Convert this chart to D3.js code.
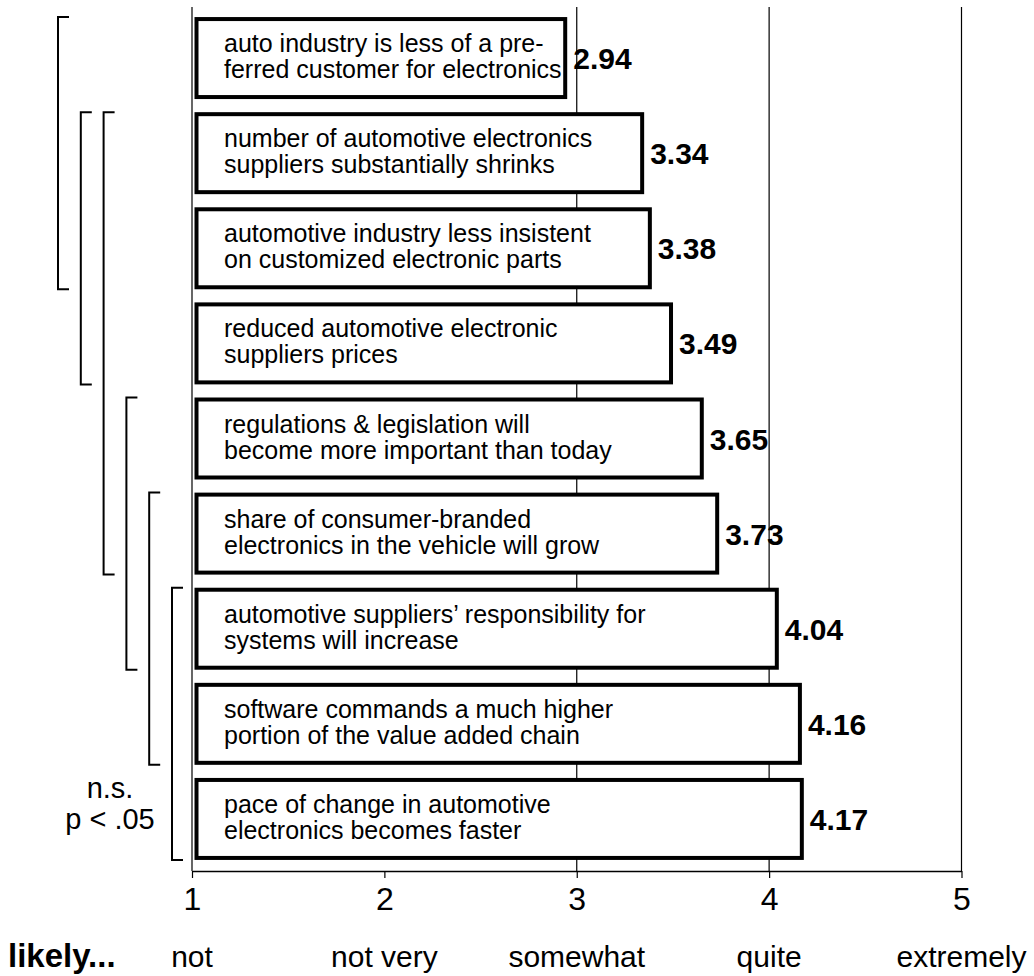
<!DOCTYPE html>
<html>
<head>
<meta charset="utf-8">
<script src="https://cdn.jsdelivr.net/npm/d3@7"></script>
<style>
  html, body { margin: 0; padding: 0; background: #fff; }
  svg { display: block; }
  text { font-family: "Liberation Sans", Arial, Helvetica, sans-serif; fill: #000; }
</style>
</head>
<body>
<svg id="chart" width="1034" height="976"></svg>
<script>
// ---- data ----
const labelLine1 = [
  "auto industry is less of a pre-",
  "number of automotive electronics",
  "automotive industry less insistent",
  "reduced automotive electronic",
  "regulations & legislation will",
  "share of consumer-branded",
  "automotive suppliers\u2019 responsibility for",
  "software commands a much higher",
  "pace of change in automotive"
];
const labelLine2 = [
  "ferred customer for electronics",
  "suppliers substantially shrinks",
  "on customized electronic parts",
  "suppliers prices",
  "become more important than today",
  "electronics in the vehicle will grow",
  "systems will increase",
  "portion of the value added chain",
  "electronics becomes faster"
];
const values = [2.94, 3.34, 3.38, 3.49, 3.65, 3.73, 4.04, 4.16, 4.17];
const tickValues = [1, 2, 3, 4, 5];
const scaleWords = ["not", "not very", "somewhat", "quite", "extremely"];
const gridValues = [1, 3, 4, 5];
// significance brackets: [first bar index, last bar index]
const bracketStart = [0, 1, 1, 4, 5, 6];
const bracketEnd   = [2, 3, 5, 6, 7, 8];
const legendLines = ["n.s.", "p < .05"];
const scaleTitle = "likely...";

// ---- layout ----
const svg = d3.select("#chart");
const axisY = 871;
const gridTop = 7;
const x = d3.scaleLinear().domain([1, 5]).range([192, 961.5]);
const idx = values.map((d, i) => i);
const y = d3.scaleBand().domain(idx).range([10.5, 866.5]).paddingInner(0.18).paddingOuter(0.09);
const bw = y.bandwidth();

// gridlines (behind bars)
svg.append("g").selectAll("line").data(gridValues).join("line")
  .attr("x1", d => x(d)).attr("x2", d => x(d))
  .attr("y1", gridTop).attr("y2", axisY)
  .attr("stroke", "#000").attr("stroke-width", 1.2);

// x axis
const axis = d3.axisBottom(x).tickValues(tickValues).tickSize(7).tickSizeOuter(0)
  .tickFormat(d3.format("d"));
const gAxis = svg.append("g").attr("transform", `translate(0,${axisY})`).call(axis);
gAxis.select(".domain").attr("stroke", "#000").attr("stroke-width", 1.3);
gAxis.selectAll(".tick line").attr("stroke", "#000").attr("stroke-width", 1.2);
gAxis.selectAll(".tick text")
  .attr("y", 39).attr("dy", 0)
  .style("font-size", "32px")
  .style("font-family", "'Liberation Sans', Arial, Helvetica, sans-serif")
  .attr("fill", "#000");

// bars
const barLeft = x(1) + 4.5;
const gBars = svg.append("g");
gBars.selectAll("rect").data(values).join("rect")
  .attr("x", barLeft)
  .attr("y", (d, i) => y(i))
  .attr("width", d => x(d) - barLeft)
  .attr("height", bw)
  .attr("fill", "#fff")
  .attr("stroke", "#000")
  .attr("stroke-width", 4);

// bar texts
const gTxt = svg.append("g").style("font-size", "25px");
gTxt.selectAll("text.l1").data(labelLine1).join("text").attr("class", "l1")
  .attr("x", x(1) + 32)
  .attr("y", (d, i) => y(i) + bw / 2 - 6)
  .text(d => d);
gTxt.selectAll("text.l2").data(labelLine2).join("text").attr("class", "l2")
  .attr("x", x(1) + 32)
  .attr("y", (d, i) => y(i) + bw / 2 + 20)
  .text(d => d);

// value labels
svg.append("g").selectAll("text").data(values).join("text")
  .attr("x", d => x(d) + 8)
  .attr("y", (d, i) => y(i) + bw / 2 + 11)
  .style("font-size", "30px").style("font-weight", "bold")
  .text(d => d.toFixed(2));

// brackets
const bracketX = bracketStart.map((d, k) => 58 + k * 22.8);
const arm = 11;
svg.append("g").selectAll("path").data(bracketStart).join("path")
  .attr("d", (s, k) => {
    const bx = bracketX[k];
    const t = y(s) - 2;
    const b = y(bracketEnd[k]) + bw + 2;
    return `M${bx + arm},${t}H${bx}V${b}H${bx + arm}`;
  })
  .attr("fill", "none").attr("stroke", "#000").attr("stroke-width", 2);

// n.s. / p < .05
const lastC = y(values.length - 1) + bw / 2;
svg.append("g").selectAll("text").data(legendLines).join("text")
  .attr("x", 110)
  .attr("y", (d, i) => lastC - 21 + i * 31)
  .attr("text-anchor", "middle")
  .style("font-size", "29px")
  .text(d => d);

// scale words
svg.append("g").selectAll("text").data(scaleWords).join("text")
  .attr("x", (d, i) => x(tickValues[i]))
  .attr("y", 967)
  .attr("text-anchor", "middle")
  .style("font-size", "30px")
  .text(d => d);

svg.append("text")
  .attr("x", 8).attr("y", 967)
  .style("font-size", "33px").style("font-weight", "bold")
  .text(scaleTitle);
</script>
</body>
</html>
